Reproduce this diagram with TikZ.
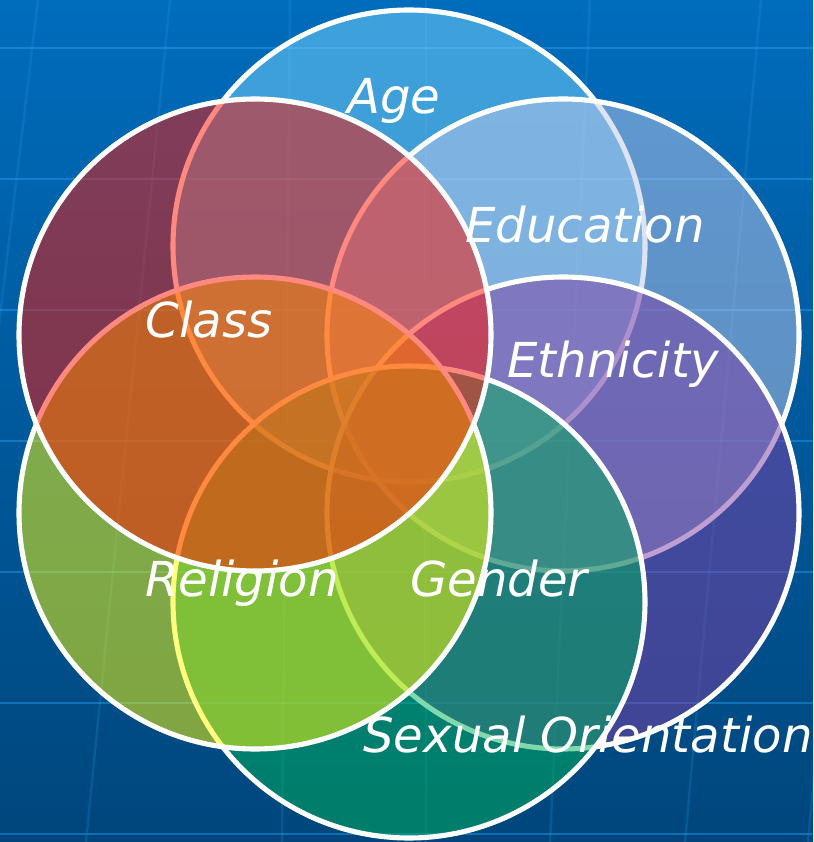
\documentclass[tikz,border=0pt]{standalone}
\usepackage{fontspec}
\newfontfamily\vennfont{DejaVu Sans}
\usepackage{tikz}

\definecolor{bgtop}{RGB}{0,108,188}
\definecolor{bgbottom}{RGB}{0,70,124}
\definecolor{gridblue}{RGB}{40,170,255}
\definecolor{agecol}{RGB}{125,215,255}
\definecolor{educol}{RGB}{190,200,235}
\definecolor{ethcol}{RGB}{128,64,165}
\definecolor{sexcol}{RGB}{0,180,90}
\definecolor{relcol}{RGB}{255,255,0}
\definecolor{clscol}{RGB}{255,20,0}

\begin{document}
\begin{tikzpicture}[
    ring/.style={draw=white, circle, line width=1.45pt,
                 minimum size=4.72cm, fill opacity=0.5},
    tag/.style={font=\vennfont\itshape\fontsize{13.7}{16}\selectfont,
                text=white, anchor=base, inner sep=0pt},
    gridline/.style={draw=gridblue, line width=0.7pt}
]

% backdrop
\fill[top color=bgtop, bottom color=bgbottom] (0,0) rectangle (8.13,8.42);
\useasboundingbox (0,0) rectangle (8.13,8.42);

\begin{scope}
  \clip (0,0) rectangle (8.13,8.42);
  \foreach \y in {7.94,6.63,5.32,4.01,2.70,1.39,0.08}
    \draw[gridline, opacity=0.4] (0,\y) -- (8.13,\y);
  \foreach \xt/\xb in {0.38/-0.63, 1.70/0.86, 2.90/2.82, 4.26/4.26,
                       5.90/5.50, 7.61/6.85, 8.84/8.08}
    \draw[gridline, opacity=0.18] (\xt,8.42) -- (\xb,0);
\end{scope}

% circles, later ones on top
\node[ring, fill=agecol] (age) at (4.09,5.96) {};
\node[ring, fill=educol] (edu) at (5.63,5.07) {};
\node[ring, fill=ethcol] (eth) at (5.63,3.29) {};
\node[ring, fill=sexcol] (sex) at (4.09,2.40) {};
\node[ring, fill=relcol] (rel) at (2.55,3.29) {};
\node[ring, fill=clscol] (cls) at (2.55,5.07) {};

% labels
\node[tag] (agelbl) at (3.94,7.29) {Age};
\node[tag] (edulbl) at (5.85,5.99) {Education};
\node[tag] (clslbl) at (2.09,5.05) {Class};
\node[tag] (ethlbl) at (6.13,4.65) {Ethnicity};
\node[tag] (rellbl) at (2.42,2.45) {Religion};
\node[tag] (genlbl) at (4.99,2.45) {Gender};
\node[tag] (sexlbl) at (5.88,0.89) {Sexual Orientation};

\end{tikzpicture}
\end{document}
